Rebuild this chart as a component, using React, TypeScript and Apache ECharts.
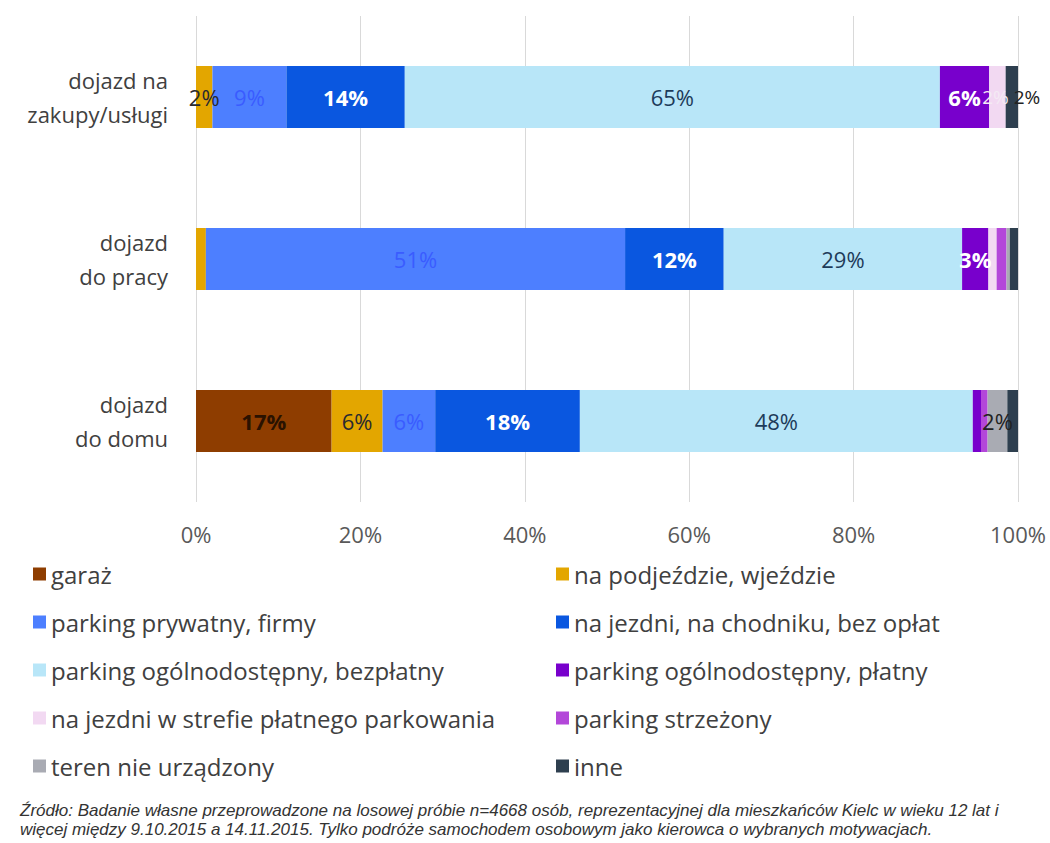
import React, { useEffect, useRef } from "react";
import * as echarts from "echarts";

const categories = ["dojazd na\nzakupy/usługi", "dojazd\ndo pracy", "dojazd\ndo domu"];
const xTicks = [0, 20, 40, 60, 80, 100];

const seriesNames = [
  "garaż",
  "na podjeździe, wjeździe",
  "parking prywatny, firmy",
  "na jezdni, na chodniku, bez opłat",
  "parking ogólnodostępny, bezpłatny",
  "parking ogólnodostępny, płatny",
  "na jezdni w strefie płatnego parkowania",
  "parking strzeżony",
  "teren nie urządzony",
  "inne",
];

const garaz = [0, 0, 16.5];
const podjazd = [2, 1.2, 6.2];
const prywatny = [9, 51, 6.4];
const jezdnia = [14.4, 12, 17.6];
const bezplatny = [65.1, 29, 47.8];
const platny = [6, 3.2, 1];
const strefa = [2, 1, 0];
const strzezony = [0, 1.2, 0.8];
const teren = [0, 0.4, 2.4];
const inne = [1.5, 1, 1.3];

const seriesValues = [garaz, podjazd, prywatny, jezdnia, bezplatny, platny, strefa, strzezony, teren, inne];

const colors = ["#8e3d00", "#e3a600", "#4d7fff", "#0a57e0", "#b8e6f8", "#7800cc", "#f2d9f2", "#b347d9", "#a9abb3", "#2e3f4f"];
const labelColors = ["#2a1200", "#2a2a30", "#3a5cff", "#ffffff", "#1d3b5a", "#ffffff", "#f4eaf4", "#ffffff", "#222222", "#222222"];
const labelBold = [true, false, false, true, false, true, false, false, false, false];
const labelSizes = [22, 22, 22, 22, 22, 22, 19, 22, 22, 19];

const footer1 = "Źródło: Badanie własne przeprowadzone na losowej próbie n=4668 osób, reprezentacyjnej dla mieszkańców Kielc w wieku 12 lat i";
const footer2 = "więcej między 9.10.2015 a 14.11.2015. Tylko podróże samochodem osobowym jako kierowca o wybranych motywacjach.";

export default function App() {
  const ref = useRef<HTMLDivElement>(null);
  useEffect(() => {
    document.body.style.margin = "0";
    const chart = echarts.init(ref.current!, null, { renderer: "svg" });
    const font = "'Open Sans', sans-serif";
    const series = seriesNames.map((name, i) => ({
      name,
      type: "bar",
      stack: "total",
      barWidth: 62,
      data: seriesValues[i],
      itemStyle: { color: colors[i] },
      label: {
        show: true,
        position: i === 9 ? "insideLeft" : "inside",
        distance: 4,
        offset: i === 9 ? [4, 0] : i === 6 ? [-2, 0] : [0, 0],
        fontFamily: font,
        fontSize: labelSizes[i],
        fontWeight: labelBold[i] ? "bold" : "normal",
        color: labelColors[i],
        formatter: (p: any) => (p.value >= 1.5 ? Math.round(p.value) + "%" : ""),
      },
    }));
    const left = [0, 2, 4, 6, 8].map((i) => seriesNames[i]);
    const right = [1, 3, 5, 7, 9].map((i) => seriesNames[i]);
    const legendCommon = {
      orient: "vertical",
      top: 554,
      itemWidth: 13,
      itemHeight: 13,
      itemGap: 18,
      icon: "rect",
      textStyle: { fontFamily: font, fontSize: 24, color: "#404040", lineHeight: 30 },
    };
    chart.setOption({
      animation: false,
      color: colors,
      grid: { left: 196, right: 32, top: 16, height: 486 },
      xAxis: {
        type: "value",
        min: 0,
        max: 100,
        interval: 20,
        axisLabel: {
          formatter: (v: number) => (xTicks.includes(v) ? v + "%" : ""),
          fontFamily: font,
          fontSize: 22,
          color: "#595959",
          margin: 21,
        },
        splitLine: { lineStyle: { color: "#d9d9d9" } },
        axisLine: { show: false },
        axisTick: { show: false },
      },
      yAxis: {
        type: "category",
        inverse: true,
        data: categories,
        axisLine: { show: false },
        axisTick: { show: false },
        axisLabel: {
          fontFamily: font,
          fontSize: 22,
          lineHeight: 34,
          color: "#404040",
          align: "right",
          margin: 28,
        },
      },
      legend: [
        { ...legendCommon, left: 28, data: left },
        { ...legendCommon, left: 551, data: right },
      ],
      series,
      graphic: [
        {
          type: "text",
          left: 20,
          top: 802,
          style: { text: footer1, font: "italic 17px 'Liberation Sans', sans-serif", fill: "#333" },
        },
        {
          type: "text",
          left: 20,
          top: 821,
          style: { text: footer2, font: "italic 17px 'Liberation Sans', sans-serif", fill: "#333" },
        },
      ],
    });
    return () => chart.dispose();
  }, []);
  return <div ref={ref} style={{ width: 1050, height: 843 }} />;
}
